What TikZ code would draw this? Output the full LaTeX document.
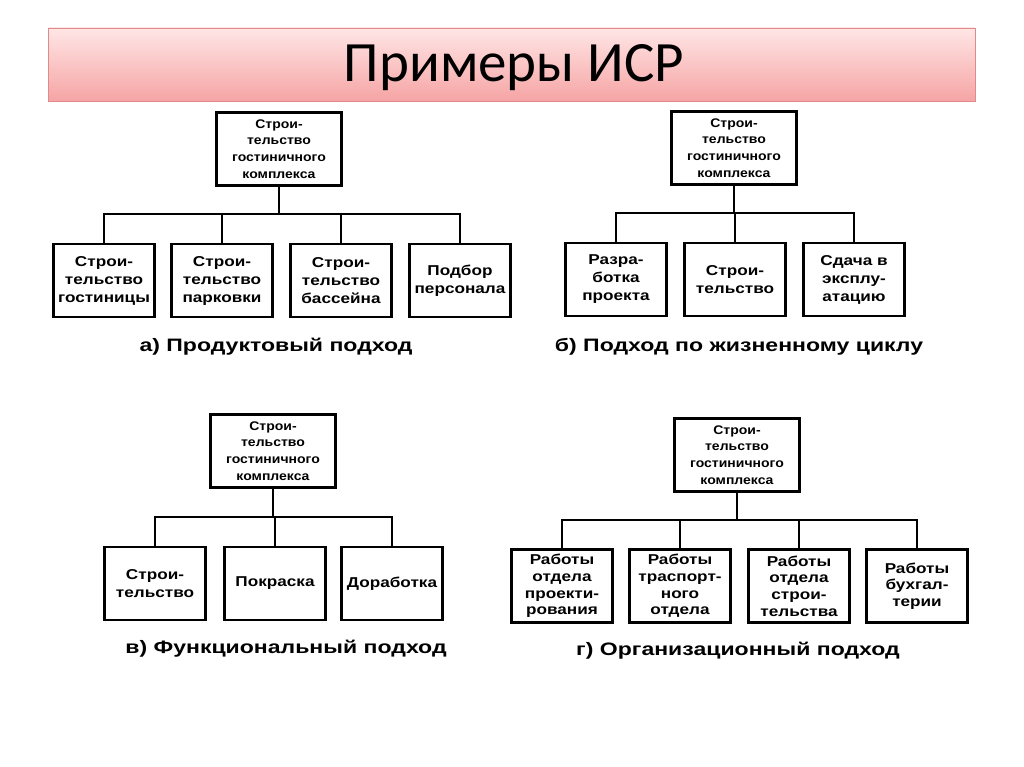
\documentclass[tikz,border=0pt]{standalone}
\usepackage{fontspec}
\setmainfont{Liberation Sans}
\newfontfamily\titlefont{Carlito}
\newfontfamily\boxfont[FakeStretch=1.12]{Liberation Sans Bold}
\newfontfamily\kidfont[FakeStretch=1.2]{Liberation Sans Bold}
\newfontfamily\capfont[FakeStretch=1.28]{Liberation Sans Bold}
\definecolor{barTop}{HTML}{FFE6E6}
\definecolor{barBot}{HTML}{F6A4A4}
\definecolor{barLine}{HTML}{E08A8A}
\begin{document}
\begin{tikzpicture}[x=1pt,y=-1pt,
  box/.style={draw=black, line width=2.3pt, fill=white, inner sep=0pt, align=center,
    font=\kidfont\fontsize{14.3}{18}\selectfont, minimum width=101pt, minimum height=73pt},
  tightbox/.style={box, font=\kidfont\fontsize{14.3}{16.7}\selectfont},
  topbox/.style={box, minimum width=125pt, font=\boxfont\fontsize{12.5}{16.7}\selectfont},
  link/.style={draw=black, line width=2.3pt},
  captxt/.style={font=\capfont\fontsize{18}{20}\selectfont, inner sep=0pt}
]
\useasboundingbox (0,0) rectangle (1024,767);
\fill[white] (0,0) rectangle (1024,767);
% title bar
\shade[top color=barTop, bottom color=barBot, draw=barLine, line width=0.8pt] (48,28) rectangle (975,101);
\node[font=\titlefont\fontsize{57}{64}\selectfont, inner sep=0pt] (title) at (514,68) {Примеры ИСР};

% ---------- a) ----------
\node[topbox] (at) at (279,149) {Строи-\\тельство\\гостиничного\\комплекса};
\node[box] (a1) at (104,280.5) {Строи-\\тельство\\гостиницы};
\node[box] (a2) at (222,280.5) {Строи-\\тельство\\парковки};
\node[box] (a3) at (341,280.5) {Строи-\\тельство\\бассейна};
\node[box] (a4) at (460,280.5) {Подбор\\персонала};
\coordinate (ja) at (279,214);
\draw[link] (at.south) -- (ja);
\draw[link] (a1.north) |- (ja);
\draw[link] (a2.north) |- (ja);
\draw[link] (a3.north) |- (ja);
\draw[link] (a4.north) |- (ja);
\node[captxt] (capa) at (276,347) {а) Продуктовый подход};

% ---------- б) ----------
\node[topbox] (bt) at (734,148) {Строи-\\тельство\\гостиничного\\комплекса};
\node[box] (b1) at (616,279.5) {Разра-\\ботка\\проекта};
\node[box] (b2) at (735,279.5) {Строи-\\тельство};
\node[box] (b3) at (854,279.5) {Сдача в\\эксплу-\\атацию};
\coordinate (jb) at (734,213);
\draw[link] (bt.south) -- (jb);
\draw[link] (b1.north) |- (jb);
\draw[link] (b2.north) |- (jb);
\draw[link] (b3.north) |- (jb);
\node[captxt] (capb) at (739,347) {б) Подход по жизненному циклу};

% ---------- в) ----------
\node[topbox] (vt) at (273,451) {Строи-\\тельство\\гостиничного\\комплекса};
\node[box] (v1) at (155,583.5) {Строи-\\тельство};
\node[box] (v2) at (275,583.5) {Покраска};
\node[box] (v3) at (392,583.5) {Доработка};
\coordinate (jv) at (273,517);
\draw[link] (vt.south) -- (jv);
\draw[link] (v1.north) |- (jv);
\draw[link] (v2.north) |- (jv);
\draw[link] (v3.north) |- (jv);
\node[captxt] (capv) at (286,649) {в) Функциональный подход};

% ---------- г) ----------
\node[topbox] (gt) at (737,455) {Строи-\\тельство\\гостиничного\\комплекса};
\node[tightbox] (g1) at (562,586) {Работы\\отдела\\проекти-\\рования};
\node[tightbox] (g2) at (680,586) {Работы\\траспорт-\\ного\\отдела};
\node[tightbox] (g3) at (799,586) {Работы\\отдела\\строи-\\тельства};
\node[tightbox] (g4) at (917,586) {Работы\\бухгал-\\терии};
\coordinate (jg) at (737,520);
\draw[link] (gt.south) -- (jg);
\draw[link] (g1.north) |- (jg);
\draw[link] (g2.north) |- (jg);
\draw[link] (g3.north) |- (jg);
\draw[link] (g4.north) |- (jg);
\node[captxt] (capg) at (738,651) {г) Организационный подход};
\end{tikzpicture}
\end{document}
